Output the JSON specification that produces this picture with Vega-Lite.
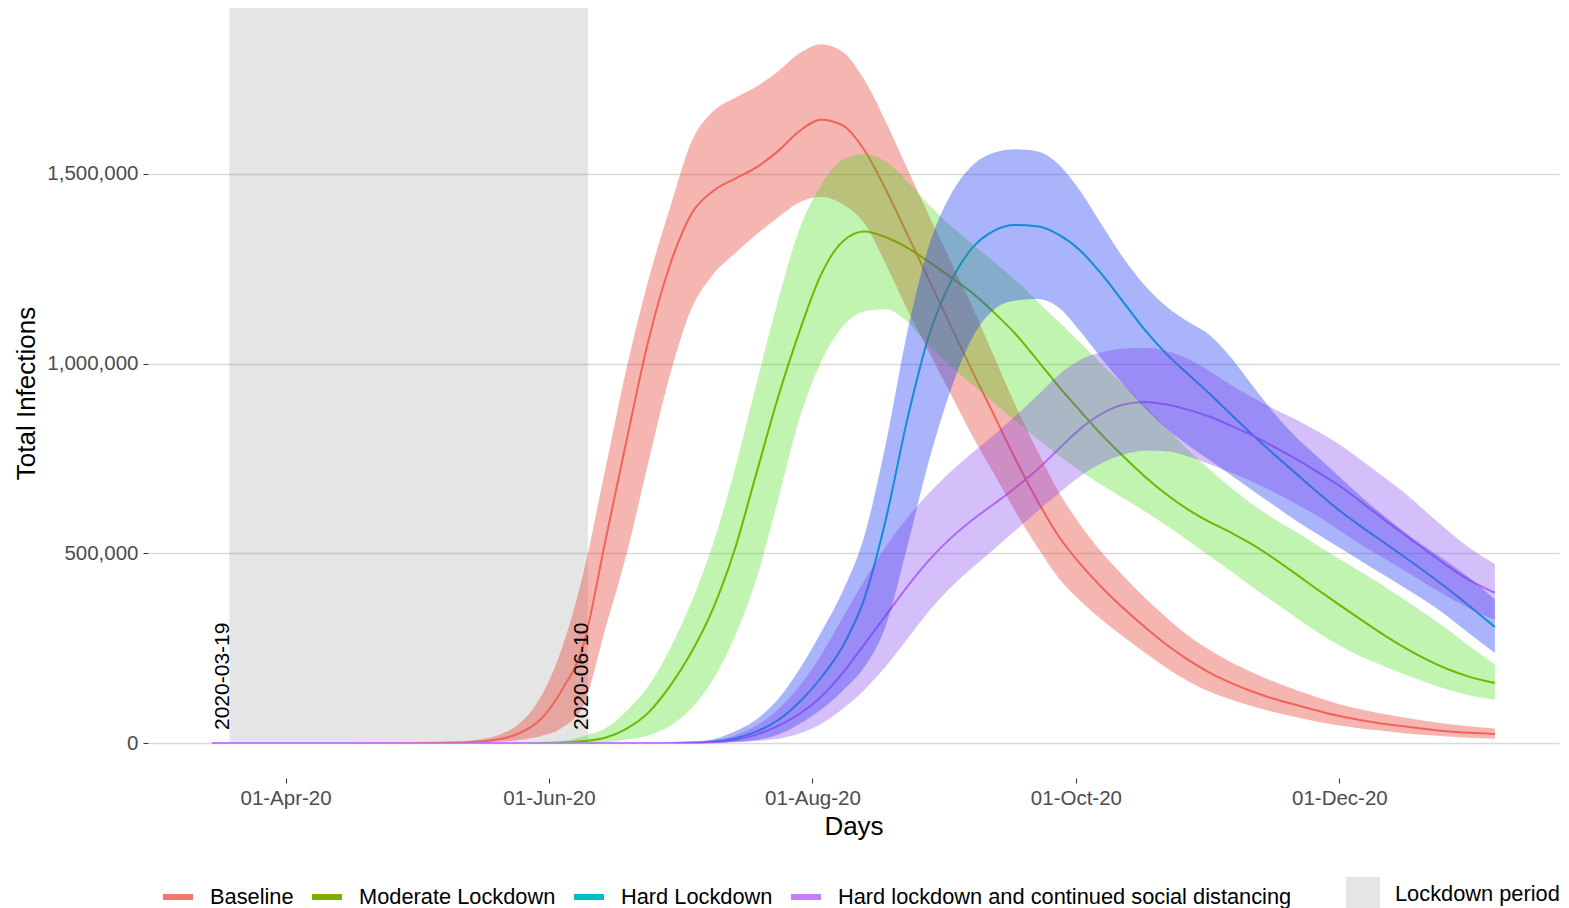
{
  "$schema": "https://vega.github.io/schema/vega-lite/v6.json",
  "width": 1411,
  "height": 770,
  "autosize": {"type": "none"},
  "padding": {"left": 148, "top": 8, "right": 10, "bottom": 130},
  "background": "white",
  "datasets": {
    "series": [
      {"date":"2020-03-15","s":"Baseline","v":0,"lo":0,"hi":0},
      {"date":"2020-04-01","s":"Baseline","v":0,"lo":0,"hi":0},
      {"date":"2020-04-15","s":"Baseline","v":0,"lo":0,"hi":0},
      {"date":"2020-05-01","s":"Baseline","v":300,"lo":100,"hi":1000},
      {"date":"2020-05-10","s":"Baseline","v":1000,"lo":300,"hi":3000},
      {"date":"2020-05-15","s":"Baseline","v":3000,"lo":1000,"hi":8000},
      {"date":"2020-05-20","s":"Baseline","v":9000,"lo":3000,"hi":20000},
      {"date":"2020-05-25","s":"Baseline","v":25000,"lo":8000,"hi":50000},
      {"date":"2020-05-30","s":"Baseline","v":62000,"lo":18000,"hi":120000},
      {"date":"2020-06-04","s":"Baseline","v":140000,"lo":40000,"hi":250000},
      {"date":"2020-06-09","s":"Baseline","v":260000,"lo":100000,"hi":450000},
      {"date":"2020-06-14","s":"Baseline","v":530000,"lo":300000,"hi":720000},
      {"date":"2020-06-19","s":"Baseline","v":800000,"lo":500000,"hi":990000},
      {"date":"2020-06-24","s":"Baseline","v":1060000,"lo":740000,"hi":1220000},
      {"date":"2020-06-29","s":"Baseline","v":1260000,"lo":970000,"hi":1410000},
      {"date":"2020-07-04","s":"Baseline","v":1395000,"lo":1145000,"hi":1585000},
      {"date":"2020-07-09","s":"Baseline","v":1455000,"lo":1235000,"hi":1665000},
      {"date":"2020-07-14","s":"Baseline","v":1487000,"lo":1290000,"hi":1700000},
      {"date":"2020-07-19","s":"Baseline","v":1517000,"lo":1340000,"hi":1730000},
      {"date":"2020-07-24","s":"Baseline","v":1560000,"lo":1385000,"hi":1770000},
      {"date":"2020-07-29","s":"Baseline","v":1613000,"lo":1425000,"hi":1818000},
      {"date":"2020-08-03","s":"Baseline","v":1643000,"lo":1440000,"hi":1842000},
      {"date":"2020-08-08","s":"Baseline","v":1628000,"lo":1420000,"hi":1822000},
      {"date":"2020-08-13","s":"Baseline","v":1563000,"lo":1370000,"hi":1748000},
      {"date":"2020-08-18","s":"Baseline","v":1458000,"lo":1262000,"hi":1637000},
      {"date":"2020-08-23","s":"Baseline","v":1340000,"lo":1142000,"hi":1512000},
      {"date":"2020-08-28","s":"Baseline","v":1220000,"lo":1030000,"hi":1390000},
      {"date":"2020-09-02","s":"Baseline","v":1100000,"lo":920000,"hi":1270000},
      {"date":"2020-09-07","s":"Baseline","v":980000,"lo":810000,"hi":1150000},
      {"date":"2020-09-12","s":"Baseline","v":865000,"lo":710000,"hi":1020000},
      {"date":"2020-09-17","s":"Baseline","v":748000,"lo":610000,"hi":890000},
      {"date":"2020-09-22","s":"Baseline","v":640000,"lo":518000,"hi":772000},
      {"date":"2020-09-27","s":"Baseline","v":545000,"lo":435000,"hi":662000},
      {"date":"2020-10-02","s":"Baseline","v":472000,"lo":375000,"hi":575000},
      {"date":"2020-10-07","s":"Baseline","v":410000,"lo":325000,"hi":502000},
      {"date":"2020-10-12","s":"Baseline","v":355000,"lo":280000,"hi":440000},
      {"date":"2020-10-17","s":"Baseline","v":305000,"lo":238000,"hi":382000},
      {"date":"2020-10-22","s":"Baseline","v":259000,"lo":198000,"hi":330000},
      {"date":"2020-10-27","s":"Baseline","v":219000,"lo":163000,"hi":283000},
      {"date":"2020-11-01","s":"Baseline","v":185000,"lo":135000,"hi":245000},
      {"date":"2020-11-06","s":"Baseline","v":158000,"lo":114000,"hi":212000},
      {"date":"2020-11-11","s":"Baseline","v":135000,"lo":96000,"hi":185000},
      {"date":"2020-11-16","s":"Baseline","v":116000,"lo":81000,"hi":161000},
      {"date":"2020-11-21","s":"Baseline","v":100000,"lo":68000,"hi":140000},
      {"date":"2020-11-26","s":"Baseline","v":85000,"lo":56000,"hi":120000},
      {"date":"2020-12-01","s":"Baseline","v":71000,"lo":46000,"hi":102000},
      {"date":"2020-12-06","s":"Baseline","v":60000,"lo":38000,"hi":88000},
      {"date":"2020-12-11","s":"Baseline","v":51000,"lo":32000,"hi":77000},
      {"date":"2020-12-16","s":"Baseline","v":44000,"lo":26000,"hi":67000},
      {"date":"2020-12-21","s":"Baseline","v":37000,"lo":21000,"hi":58000},
      {"date":"2020-12-26","s":"Baseline","v":31000,"lo":17000,"hi":50000},
      {"date":"2020-12-31","s":"Baseline","v":27000,"lo":14000,"hi":44000},
      {"date":"2021-01-06","s":"Baseline","v":24000,"lo":11000,"hi":38000},

      {"date":"2020-03-15","s":"Moderate Lockdown","v":0,"lo":0,"hi":0},
      {"date":"2020-04-01","s":"Moderate Lockdown","v":0,"lo":0,"hi":0},
      {"date":"2020-04-15","s":"Moderate Lockdown","v":0,"lo":0,"hi":0},
      {"date":"2020-05-01","s":"Moderate Lockdown","v":0,"lo":0,"hi":0},
      {"date":"2020-05-10","s":"Moderate Lockdown","v":0,"lo":0,"hi":0},
      {"date":"2020-05-15","s":"Moderate Lockdown","v":0,"lo":0,"hi":0},
      {"date":"2020-05-20","s":"Moderate Lockdown","v":0,"lo":0,"hi":0},
      {"date":"2020-05-25","s":"Moderate Lockdown","v":0,"lo":0,"hi":0},
      {"date":"2020-05-30","s":"Moderate Lockdown","v":200,"lo":0,"hi":1000},
      {"date":"2020-06-04","s":"Moderate Lockdown","v":1000,"lo":200,"hi":5000},
      {"date":"2020-06-09","s":"Moderate Lockdown","v":5000,"lo":1000,"hi":18000},
      {"date":"2020-06-14","s":"Moderate Lockdown","v":14000,"lo":2000,"hi":38000},
      {"date":"2020-06-19","s":"Moderate Lockdown","v":38000,"lo":9000,"hi":85000},
      {"date":"2020-06-24","s":"Moderate Lockdown","v":80000,"lo":20000,"hi":150000},
      {"date":"2020-06-29","s":"Moderate Lockdown","v":150000,"lo":45000,"hi":248000},
      {"date":"2020-07-04","s":"Moderate Lockdown","v":240000,"lo":92000,"hi":372000},
      {"date":"2020-07-09","s":"Moderate Lockdown","v":355000,"lo":168000,"hi":525000},
      {"date":"2020-07-14","s":"Moderate Lockdown","v":510000,"lo":280000,"hi":720000},
      {"date":"2020-07-19","s":"Moderate Lockdown","v":710000,"lo":432000,"hi":945000},
      {"date":"2020-07-24","s":"Moderate Lockdown","v":910000,"lo":640000,"hi":1165000},
      {"date":"2020-07-29","s":"Moderate Lockdown","v":1085000,"lo":855000,"hi":1355000},
      {"date":"2020-08-03","s":"Moderate Lockdown","v":1235000,"lo":1005000,"hi":1470000},
      {"date":"2020-08-08","s":"Moderate Lockdown","v":1322000,"lo":1098000,"hi":1538000},
      {"date":"2020-08-13","s":"Moderate Lockdown","v":1348000,"lo":1138000,"hi":1552000},
      {"date":"2020-08-18","s":"Moderate Lockdown","v":1333000,"lo":1143000,"hi":1532000},
      {"date":"2020-08-23","s":"Moderate Lockdown","v":1305000,"lo":1110000,"hi":1480000},
      {"date":"2020-08-28","s":"Moderate Lockdown","v":1268000,"lo":1048000,"hi":1418000},
      {"date":"2020-09-02","s":"Moderate Lockdown","v":1228000,"lo":993000,"hi":1363000},
      {"date":"2020-09-07","s":"Moderate Lockdown","v":1186000,"lo":945000,"hi":1315000},
      {"date":"2020-09-12","s":"Moderate Lockdown","v":1135000,"lo":897000,"hi":1268000},
      {"date":"2020-09-17","s":"Moderate Lockdown","v":1078000,"lo":850000,"hi":1220000},
      {"date":"2020-09-22","s":"Moderate Lockdown","v":1010000,"lo":802000,"hi":1165000},
      {"date":"2020-09-27","s":"Moderate Lockdown","v":940000,"lo":758000,"hi":1110000},
      {"date":"2020-10-02","s":"Moderate Lockdown","v":875000,"lo":717000,"hi":1055000},
      {"date":"2020-10-07","s":"Moderate Lockdown","v":812000,"lo":680000,"hi":998000},
      {"date":"2020-10-12","s":"Moderate Lockdown","v":755000,"lo":645000,"hi":944000},
      {"date":"2020-10-17","s":"Moderate Lockdown","v":702000,"lo":610000,"hi":888000},
      {"date":"2020-10-22","s":"Moderate Lockdown","v":655000,"lo":573000,"hi":830000},
      {"date":"2020-10-27","s":"Moderate Lockdown","v":615000,"lo":533000,"hi":772000},
      {"date":"2020-11-01","s":"Moderate Lockdown","v":582000,"lo":492000,"hi":720000},
      {"date":"2020-11-06","s":"Moderate Lockdown","v":554000,"lo":452000,"hi":672000},
      {"date":"2020-11-11","s":"Moderate Lockdown","v":522000,"lo":410000,"hi":628000},
      {"date":"2020-11-16","s":"Moderate Lockdown","v":485000,"lo":370000,"hi":590000},
      {"date":"2020-11-21","s":"Moderate Lockdown","v":445000,"lo":330000,"hi":556000},
      {"date":"2020-11-26","s":"Moderate Lockdown","v":404000,"lo":291000,"hi":520000},
      {"date":"2020-12-01","s":"Moderate Lockdown","v":364000,"lo":257000,"hi":485000},
      {"date":"2020-12-06","s":"Moderate Lockdown","v":325000,"lo":228000,"hi":451000},
      {"date":"2020-12-11","s":"Moderate Lockdown","v":287000,"lo":204000,"hi":416000},
      {"date":"2020-12-16","s":"Moderate Lockdown","v":252000,"lo":181000,"hi":378000},
      {"date":"2020-12-21","s":"Moderate Lockdown","v":221000,"lo":160000,"hi":340000},
      {"date":"2020-12-26","s":"Moderate Lockdown","v":195000,"lo":141000,"hi":300000},
      {"date":"2020-12-31","s":"Moderate Lockdown","v":175000,"lo":126000,"hi":256000},
      {"date":"2021-01-06","s":"Moderate Lockdown","v":158000,"lo":114000,"hi":207000},

      {"date":"2020-03-15","s":"Hard Lockdown","v":0,"lo":0,"hi":0},
      {"date":"2020-04-01","s":"Hard Lockdown","v":0,"lo":0,"hi":0},
      {"date":"2020-04-15","s":"Hard Lockdown","v":0,"lo":0,"hi":0},
      {"date":"2020-05-01","s":"Hard Lockdown","v":0,"lo":0,"hi":0},
      {"date":"2020-05-10","s":"Hard Lockdown","v":0,"lo":0,"hi":0},
      {"date":"2020-05-15","s":"Hard Lockdown","v":0,"lo":0,"hi":0},
      {"date":"2020-05-20","s":"Hard Lockdown","v":0,"lo":0,"hi":0},
      {"date":"2020-05-25","s":"Hard Lockdown","v":0,"lo":0,"hi":0},
      {"date":"2020-05-30","s":"Hard Lockdown","v":0,"lo":0,"hi":0},
      {"date":"2020-06-04","s":"Hard Lockdown","v":0,"lo":0,"hi":0},
      {"date":"2020-06-09","s":"Hard Lockdown","v":0,"lo":0,"hi":0},
      {"date":"2020-06-14","s":"Hard Lockdown","v":0,"lo":0,"hi":0},
      {"date":"2020-06-19","s":"Hard Lockdown","v":0,"lo":0,"hi":0},
      {"date":"2020-06-24","s":"Hard Lockdown","v":0,"lo":0,"hi":0},
      {"date":"2020-06-29","s":"Hard Lockdown","v":200,"lo":0,"hi":600},
      {"date":"2020-07-04","s":"Hard Lockdown","v":1000,"lo":0,"hi":3000},
      {"date":"2020-07-09","s":"Hard Lockdown","v":4000,"lo":1000,"hi":10000},
      {"date":"2020-07-14","s":"Hard Lockdown","v":12000,"lo":3000,"hi":30000},
      {"date":"2020-07-19","s":"Hard Lockdown","v":30000,"lo":8000,"hi":62000},
      {"date":"2020-07-24","s":"Hard Lockdown","v":60000,"lo":22000,"hi":115000},
      {"date":"2020-07-29","s":"Hard Lockdown","v":108000,"lo":50000,"hi":195000},
      {"date":"2020-08-03","s":"Hard Lockdown","v":172000,"lo":88000,"hi":292000},
      {"date":"2020-08-08","s":"Hard Lockdown","v":255000,"lo":138000,"hi":400000},
      {"date":"2020-08-13","s":"Hard Lockdown","v":380000,"lo":200000,"hi":545000},
      {"date":"2020-08-18","s":"Hard Lockdown","v":590000,"lo":310000,"hi":790000},
      {"date":"2020-08-23","s":"Hard Lockdown","v":855000,"lo":520000,"hi":1085000},
      {"date":"2020-08-28","s":"Hard Lockdown","v":1075000,"lo":745000,"hi":1312000},
      {"date":"2020-09-02","s":"Hard Lockdown","v":1215000,"lo":930000,"hi":1445000},
      {"date":"2020-09-07","s":"Hard Lockdown","v":1305000,"lo":1068000,"hi":1522000},
      {"date":"2020-09-12","s":"Hard Lockdown","v":1350000,"lo":1142000,"hi":1556000},
      {"date":"2020-09-17","s":"Hard Lockdown","v":1365000,"lo":1166000,"hi":1565000},
      {"date":"2020-09-22","s":"Hard Lockdown","v":1362000,"lo":1170000,"hi":1560000},
      {"date":"2020-09-27","s":"Hard Lockdown","v":1340000,"lo":1148000,"hi":1525000},
      {"date":"2020-10-02","s":"Hard Lockdown","v":1298000,"lo":1085000,"hi":1455000},
      {"date":"2020-10-07","s":"Hard Lockdown","v":1235000,"lo":1012000,"hi":1365000},
      {"date":"2020-10-12","s":"Hard Lockdown","v":1162000,"lo":945000,"hi":1278000},
      {"date":"2020-10-17","s":"Hard Lockdown","v":1088000,"lo":882000,"hi":1205000},
      {"date":"2020-10-22","s":"Hard Lockdown","v":1025000,"lo":828000,"hi":1150000},
      {"date":"2020-10-27","s":"Hard Lockdown","v":972000,"lo":785000,"hi":1110000},
      {"date":"2020-11-01","s":"Hard Lockdown","v":920000,"lo":745000,"hi":1075000},
      {"date":"2020-11-06","s":"Hard Lockdown","v":865000,"lo":705000,"hi":1015000},
      {"date":"2020-11-11","s":"Hard Lockdown","v":811000,"lo":665000,"hi":940000},
      {"date":"2020-11-16","s":"Hard Lockdown","v":760000,"lo":625000,"hi":868000},
      {"date":"2020-11-21","s":"Hard Lockdown","v":710000,"lo":586000,"hi":806000},
      {"date":"2020-11-26","s":"Hard Lockdown","v":660000,"lo":550000,"hi":754000},
      {"date":"2020-12-01","s":"Hard Lockdown","v":613000,"lo":515000,"hi":702000},
      {"date":"2020-12-06","s":"Hard Lockdown","v":571000,"lo":480000,"hi":650000},
      {"date":"2020-12-11","s":"Hard Lockdown","v":531000,"lo":445000,"hi":602000},
      {"date":"2020-12-16","s":"Hard Lockdown","v":491000,"lo":410000,"hi":557000},
      {"date":"2020-12-21","s":"Hard Lockdown","v":450000,"lo":374000,"hi":516000},
      {"date":"2020-12-26","s":"Hard Lockdown","v":407000,"lo":334000,"hi":478000},
      {"date":"2020-12-31","s":"Hard Lockdown","v":362000,"lo":289000,"hi":436000},
      {"date":"2021-01-06","s":"Hard Lockdown","v":306000,"lo":237000,"hi":378000},

      {"date":"2020-03-15","s":"Hard lockdown and continued social distancing","v":0,"lo":0,"hi":0},
      {"date":"2020-04-01","s":"Hard lockdown and continued social distancing","v":0,"lo":0,"hi":0},
      {"date":"2020-04-15","s":"Hard lockdown and continued social distancing","v":0,"lo":0,"hi":0},
      {"date":"2020-05-01","s":"Hard lockdown and continued social distancing","v":0,"lo":0,"hi":0},
      {"date":"2020-05-10","s":"Hard lockdown and continued social distancing","v":0,"lo":0,"hi":0},
      {"date":"2020-05-15","s":"Hard lockdown and continued social distancing","v":0,"lo":0,"hi":0},
      {"date":"2020-05-20","s":"Hard lockdown and continued social distancing","v":0,"lo":0,"hi":0},
      {"date":"2020-05-25","s":"Hard lockdown and continued social distancing","v":0,"lo":0,"hi":0},
      {"date":"2020-05-30","s":"Hard lockdown and continued social distancing","v":0,"lo":0,"hi":0},
      {"date":"2020-06-04","s":"Hard lockdown and continued social distancing","v":0,"lo":0,"hi":0},
      {"date":"2020-06-09","s":"Hard lockdown and continued social distancing","v":0,"lo":0,"hi":0},
      {"date":"2020-06-14","s":"Hard lockdown and continued social distancing","v":0,"lo":0,"hi":0},
      {"date":"2020-06-19","s":"Hard lockdown and continued social distancing","v":0,"lo":0,"hi":0},
      {"date":"2020-06-24","s":"Hard lockdown and continued social distancing","v":0,"lo":0,"hi":0},
      {"date":"2020-06-29","s":"Hard lockdown and continued social distancing","v":0,"lo":0,"hi":0},
      {"date":"2020-07-04","s":"Hard lockdown and continued social distancing","v":500,"lo":0,"hi":1500},
      {"date":"2020-07-09","s":"Hard lockdown and continued social distancing","v":2000,"lo":0,"hi":5000},
      {"date":"2020-07-14","s":"Hard lockdown and continued social distancing","v":8000,"lo":2000,"hi":20000},
      {"date":"2020-07-19","s":"Hard lockdown and continued social distancing","v":22000,"lo":5000,"hi":46000},
      {"date":"2020-07-24","s":"Hard lockdown and continued social distancing","v":45000,"lo":11000,"hi":88000},
      {"date":"2020-07-29","s":"Hard lockdown and continued social distancing","v":77000,"lo":25000,"hi":150000},
      {"date":"2020-08-03","s":"Hard lockdown and continued social distancing","v":122000,"lo":50000,"hi":232000},
      {"date":"2020-08-08","s":"Hard lockdown and continued social distancing","v":185000,"lo":90000,"hi":330000},
      {"date":"2020-08-13","s":"Hard lockdown and continued social distancing","v":260000,"lo":140000,"hi":428000},
      {"date":"2020-08-18","s":"Hard lockdown and continued social distancing","v":337000,"lo":202000,"hi":518000},
      {"date":"2020-08-23","s":"Hard lockdown and continued social distancing","v":413000,"lo":275000,"hi":594000},
      {"date":"2020-08-28","s":"Hard lockdown and continued social distancing","v":482000,"lo":348000,"hi":659000},
      {"date":"2020-09-02","s":"Hard lockdown and continued social distancing","v":540000,"lo":410000,"hi":715000},
      {"date":"2020-09-07","s":"Hard lockdown and continued social distancing","v":588000,"lo":462000,"hi":765000},
      {"date":"2020-09-12","s":"Hard lockdown and continued social distancing","v":630000,"lo":511000,"hi":812000},
      {"date":"2020-09-17","s":"Hard lockdown and continued social distancing","v":673000,"lo":560000,"hi":862000},
      {"date":"2020-09-22","s":"Hard lockdown and continued social distancing","v":720000,"lo":610000,"hi":915000},
      {"date":"2020-09-27","s":"Hard lockdown and continued social distancing","v":775000,"lo":658000,"hi":970000},
      {"date":"2020-10-02","s":"Hard lockdown and continued social distancing","v":828000,"lo":703000,"hi":1010000},
      {"date":"2020-10-07","s":"Hard lockdown and continued social distancing","v":868000,"lo":738000,"hi":1030000},
      {"date":"2020-10-12","s":"Hard lockdown and continued social distancing","v":892000,"lo":760000,"hi":1040000},
      {"date":"2020-10-17","s":"Hard lockdown and continued social distancing","v":899000,"lo":770000,"hi":1041000},
      {"date":"2020-10-22","s":"Hard lockdown and continued social distancing","v":892000,"lo":769000,"hi":1033000},
      {"date":"2020-10-27","s":"Hard lockdown and continued social distancing","v":878000,"lo":755000,"hi":1012000},
      {"date":"2020-11-01","s":"Hard lockdown and continued social distancing","v":860000,"lo":735000,"hi":980000},
      {"date":"2020-11-06","s":"Hard lockdown and continued social distancing","v":836000,"lo":712000,"hi":943000},
      {"date":"2020-11-11","s":"Hard lockdown and continued social distancing","v":810000,"lo":688000,"hi":910000},
      {"date":"2020-11-16","s":"Hard lockdown and continued social distancing","v":780000,"lo":660000,"hi":880000},
      {"date":"2020-11-21","s":"Hard lockdown and continued social distancing","v":748000,"lo":630000,"hi":852000},
      {"date":"2020-11-26","s":"Hard lockdown and continued social distancing","v":714000,"lo":598000,"hi":821000},
      {"date":"2020-12-01","s":"Hard lockdown and continued social distancing","v":678000,"lo":560000,"hi":787000},
      {"date":"2020-12-06","s":"Hard lockdown and continued social distancing","v":636000,"lo":523000,"hi":746000},
      {"date":"2020-12-11","s":"Hard lockdown and continued social distancing","v":592000,"lo":489000,"hi":704000},
      {"date":"2020-12-16","s":"Hard lockdown and continued social distancing","v":550000,"lo":455000,"hi":660000},
      {"date":"2020-12-21","s":"Hard lockdown and continued social distancing","v":508000,"lo":420000,"hi":610000},
      {"date":"2020-12-26","s":"Hard lockdown and continued social distancing","v":467000,"lo":386000,"hi":561000},
      {"date":"2020-12-31","s":"Hard lockdown and continued social distancing","v":430000,"lo":355000,"hi":515000},
      {"date":"2021-01-06","s":"Hard lockdown and continued social distancing","v":396000,"lo":325000,"hi":472000}
    ],
    "lockdown": [
      {"start": "2020-03-19", "end": "2020-06-10", "period": "Lockdown period"}
    ],
    "marks": [
      {"d": "2020-03-19", "label": "2020-03-19"},
      {"d": "2020-06-10", "label": "2020-06-10"}
    ]
  },
  "layer": [
    {
      "data": {"name": "lockdown"},
      "mark": {"type": "rect"},
      "encoding": {
        "x": {"field": "start", "type": "temporal", "title": "Days",
              "scale": {"type": "utc", "domain": [1582947360000, 1611174240000]}},
        "x2": {"field": "end"},
        "y": {"datum": 0, "type": "quantitative", "title": "Total Infections",
              "scale": {"domain": [-92250, 1937250], "nice": false, "zero": false}},
        "y2": {"datum": 1937250},
        "fill": {"field": "period", "type": "nominal",
                 "scale": {"domain": ["Lockdown period"], "range": ["rgba(127,127,127,0.2)"]},
                 "legend": {"title": null, "orient": "none", "legendX": 1198, "legendY": 869,
                            "symbolType": "square", "symbolSize": 1156, "symbolStrokeWidth": 0,
                            "labelOffset": 15, "labelFontSize": 21.8, "labelColor": "#000000", "labelLimit": 600}}
      }
    },
    {
      "data": {"name": "series"},
      "mark": {"type": "line", "interpolate": "monotone", "strokeWidth": 2},
      "encoding": {
        "x": {"field": "date", "type": "temporal", "title": "Days",
              "scale": {"type": "utc", "domain": [1582947360000, 1611174240000]},
              "axis": {"values": [1585699200000, 1590969600000, 1596240000000, 1601510400000, 1606780800000],
                       "labelExpr": "utcFormat(datum.value, '%d-%b-%y')"}},
        "y": {"field": "v", "type": "quantitative", "title": "Total Infections",
              "scale": {"domain": [-92250, 1937250], "nice": false, "zero": false},
              "axis": {"values": [0, 500000, 1000000, 1500000], "format": ",d"}},
        "stroke": {"field": "s", "type": "nominal",
                   "scale": {"domain": ["Baseline", "Moderate Lockdown", "Hard Lockdown", "Hard lockdown and continued social distancing"],
                             "range": ["#F8766D", "#7CAE00", "#00BFC4", "#C77CFF"]},
                   "legend": {"title": null, "orient": "none", "legendX": 12, "legendY": 871,
                              "direction": "horizontal", "columns": 4,
                              "symbolType": "stroke", "symbolStrokeWidth": 6, "symbolSize": 900,
                              "labelOffset": 14, "columnPadding": 6, "labelFontSize": 21.8,
                              "labelColor": "#000000", "labelLimit": 600}}
      }
    },
    {
      "data": {"name": "series"},
      "mark": {"type": "area", "interpolate": "monotone"},
      "encoding": {
        "x": {"field": "date", "type": "temporal", "title": "Days",
              "scale": {"type": "utc", "domain": [1582947360000, 1611174240000]}},
        "y": {"field": "lo", "type": "quantitative", "title": "Total Infections",
              "scale": {"domain": [-92250, 1937250], "nice": false, "zero": false}},
        "y2": {"field": "hi"},
        "fill": {"field": "s", "type": "nominal",
                 "scale": {"domain": ["Baseline", "Moderate Lockdown", "Hard Lockdown", "Hard lockdown and continued social distancing"],
                           "range": ["rgba(230,70,60,0.4)", "rgba(51,221,0,0.31)", "rgba(40,67,242,0.4)", "rgba(125,55,240,0.32)"]},
                 "legend": null}
      }
    },
    {
      "data": {"name": "marks"},
      "mark": {"type": "text", "angle": 270, "align": "left", "baseline": "alphabetic",
               "fontSize": 21, "color": "#000000", "dx": 13},
      "encoding": {
        "x": {"field": "d", "type": "temporal", "title": "Days",
              "scale": {"type": "utc", "domain": [1582947360000, 1611174240000]}},
        "y": {"datum": 0, "type": "quantitative", "title": "Total Infections",
              "scale": {"domain": [-92250, 1937250], "nice": false, "zero": false}},
        "text": {"field": "label"}
      }
    }
  ],
  "resolve": {"scale": {"fill": "independent"}},
  "config": {
    "font": "Liberation Sans",
    "view": {"stroke": null},
    "axis": {
      "domain": false, "labelFont": "Liberation Sans", "titleFont": "Liberation Sans",
      "labelColor": "#4D4D4D", "titleColor": "#000000", "titleFontWeight": "normal",
      "labelFontSize": 20.5, "titleFontSize": 26, "tickColor": "#333333", "tickSize": 5, "tickWidth": 1
    },
    "axisX": {"grid": false, "labelPadding": 5, "titlePadding": 5},
    "axisY": {"grid": true, "gridColor": "#D9D9D9", "gridWidth": 1.3, "labelPadding": 5, "titlePadding": 7},
    "legend": {"labelFont": "Liberation Sans"}
  }
}
